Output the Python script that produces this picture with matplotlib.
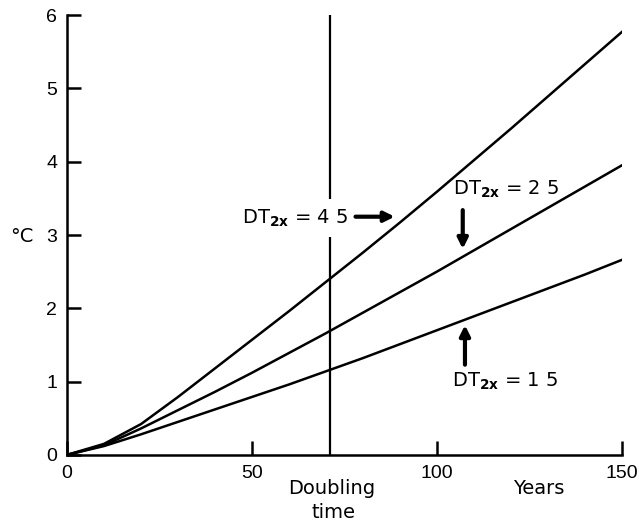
import matplotlib
matplotlib.use("Agg")
import matplotlib.pyplot as plt

plt.rcParams['font.family'] = ['Liberation Sans', 'DejaVu Sans']
plt.rcParams['mathtext.fontset'] = 'dejavusans'

years = [0, 10, 20, 30, 40, 50, 60, 70, 80, 90, 100, 110, 120, 130, 140, 150]
dt45 = [0, 0.15, 0.42, 0.79, 1.18, 1.57, 1.96, 2.36, 2.76, 3.17, 3.59, 4.02, 4.45, 4.89, 5.33, 5.77]
dt25 = [0, 0.13, 0.36, 0.61, 0.86, 1.12, 1.39, 1.66, 1.94, 2.22, 2.50, 2.79, 3.08, 3.37, 3.66, 3.95]
dt15 = [0, 0.12, 0.28, 0.45, 0.62, 0.79, 0.96, 1.14, 1.32, 1.51, 1.70, 1.89, 2.08, 2.27, 2.46, 2.66]
doubling_time = 71
xticks = [0, 50, 100, 150]
yticks = [0, 1, 2, 3, 4, 5, 6]

fig = plt.figure(figsize=(6.39, 5.24), dpi=100)
ax = fig.add_axes([0.105, 0.132, 0.868, 0.839])

ax.axvline(doubling_time, color='black', lw=1.6, zorder=1)
for ys in (dt45, dt25, dt15):
    ax.plot(years, ys, color='black', lw=1.8, zorder=2)

ax.set_xlim(0, 150)
ax.set_ylim(0, 6)
ax.set_xticks(xticks)
ax.set_yticks(yticks)
ax.spines['top'].set_visible(False)
ax.spines['right'].set_visible(False)
for s in ('left', 'bottom'):
    ax.spines[s].set_linewidth(1.8)
ax.tick_params(direction='in', length=10, width=1.8, labelsize=14, pad=7)

lab_font = dict(family='DejaVu Sans', fontsize=14)
arrow = dict(arrowstyle='-|>', lw=3, color='black', mutation_scale=15, shrinkA=0, shrinkB=0)

ax.text(76, 3.23, 'DT$_{\\mathbf{2x}}$ = 4 5', ha='right', va='center',
        bbox=dict(facecolor='white', edgecolor='none', pad=6), zorder=3, **lab_font)
ax.annotate('', xy=(88.6, 3.25), xytext=(78.0, 3.25), arrowprops=arrow)

ax.text(104.3, 3.63, 'DT$_{\\mathbf{2x}}$ = 2 5', ha='left', va='center', **lab_font)
ax.annotate('', xy=(107.0, 2.81), xytext=(107.0, 3.34), arrowprops=arrow)

ax.text(104.0, 1.0, 'DT$_{\\mathbf{2x}}$ = 1 5', ha='left', va='center', **lab_font)
ax.annotate('', xy=(107.6, 1.77), xytext=(107.6, 1.23), arrowprops=arrow)

axis_font = dict(family='DejaVu Sans', fontsize=14)
fig.text(332 / 639, 1 - 488 / 524, 'Doubling', ha='center', va='center', **axis_font)
fig.text(333 / 639, 1 - 512 / 524, 'time', ha='center', va='center', **axis_font)
fig.text(539 / 639, 1 - 488 / 524, 'Years', ha='center', va='center', **axis_font)
fig.text(22 / 639, 1 - 236 / 524, '°C', ha='center', va='center', **axis_font)

fig.savefig('out.png', dpi=100)
